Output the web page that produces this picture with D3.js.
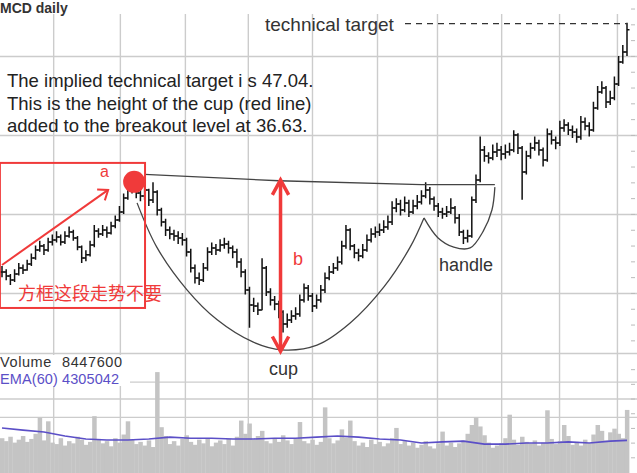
<!DOCTYPE html>
<html>
<head>
<meta charset="utf-8">
<script src="https://d3js.org/d3.v7.min.js"></script>
<style>
  body { margin: 0; background: #fff; }
  svg { display: block; font-family: "Liberation Sans", Arial, sans-serif; }
</style>
</head>
<body>
<svg id="chart" width="637" height="473"></svg>
<script>
// daily bars, MCD
var hi = [31.7,31.5,31.2,31.5,31.9,31.8,32.1,32.5,33.0,33.3,
  33.1,33.5,33.7,33.9,33.7,33.9,34.2,34.0,33.6,33.0,
  32.7,33.3,34.3,34.1,34.3,34.2,34.5,34.9,35.5,36.3,
  36.9,37.2,36.9,36.6,36.8,36.6,37.0,36.5,35.4,34.7,
  34.2,34.0,33.9,33.8,33.5,32.8,31.8,31.3,31.9,32.9,
  33.2,33.1,33.4,33.5,33.3,33.0,32.8,32.2,31.5,30.4,
  29.7,29.4,32.2,31.7,30.3,29.8,29.5,28.9,28.7,28.9,
  29.1,29.9,30.6,30.5,30.0,29.9,30.5,31.3,31.7,31.9,
  32.3,33.3,34.3,34.1,33.1,32.8,33.1,33.7,34.1,34.2,
  34.4,34.6,34.9,35.8,36.0,35.9,36.1,35.9,35.9,36.2,
  36.5,37.0,36.7,36.1,35.7,35.4,35.5,36.0,35.5,35.0,
  34.0,34.0,36.1,37.5,39.9,39.3,38.9,39.4,39.5,39.3,
  39.4,39.5,40.3,40.1,39.3,39.0,39.5,39.9,39.7,39.2,
  40.4,40.3,39.9,40.9,41.0,40.8,40.6,40.4,41.2,41.1,
  40.8,42.1,43.1,43.4,43.1,42.8,43.7,45.0,45.7,47.1];
var lo = [31.0,30.8,30.5,30.7,31.1,31.2,31.4,31.7,32.1,32.6,
  32.4,32.6,33.0,33.2,33.0,33.1,33.5,33.3,32.7,31.9,
  32.0,32.3,32.9,33.5,33.6,33.5,33.7,34.1,34.5,35.0,
  35.9,36.3,36.0,35.8,35.9,35.5,35.7,34.9,34.2,33.6,
  33.4,33.3,33.1,33.0,32.3,31.3,30.6,30.5,30.7,31.4,
  32.4,32.4,32.6,32.8,32.5,32.2,31.6,31.0,29.9,27.8,
  28.8,28.6,28.9,29.8,29.2,28.9,28.4,27.5,27.8,28.1,
  28.3,28.5,29.4,29.5,28.8,29.0,29.4,30.0,30.8,31.2,
  31.4,31.8,32.8,32.7,32.2,32.0,32.2,32.6,33.2,33.5,
  33.6,33.8,34.0,34.3,35.1,34.9,35.1,34.8,35.0,35.3,
  35.6,36.0,35.6,35.2,34.8,34.7,34.8,35.0,34.4,33.6,
  33.1,33.2,33.5,35.7,37.0,38.3,38.2,38.4,38.6,38.4,
  38.5,38.7,38.9,38.8,35.9,37.5,38.5,39.0,38.7,38.0,
  38.3,39.4,39.1,39.3,40.2,40.0,39.8,39.5,39.7,40.3,
  39.9,40.2,41.6,42.6,41.7,41.9,42.2,43.1,44.5,45.0];
var cl = [31.33,31.08,30.82,31.20,31.58,31.46,31.84,32.22,32.72,32.97,
  32.72,33.23,33.35,33.54,33.23,33.61,33.86,33.48,32.91,32.22,
  32.41,33.04,33.92,33.73,33.99,33.80,34.24,34.62,35.13,36.01,
  36.52,36.77,36.33,36.14,36.52,35.89,36.39,35.25,34.49,33.99,
  33.73,33.61,33.48,33.35,32.59,31.58,30.95,30.82,31.58,32.59,
  32.85,32.72,33.04,33.10,32.85,32.59,31.96,31.33,30.19,29.24,
  29.18,28.92,31.58,30.06,29.56,29.30,28.80,28.04,28.29,28.54,
  28.67,29.56,30.32,29.81,29.18,29.56,30.19,30.95,31.33,31.58,
  31.96,32.97,33.99,32.97,32.53,32.34,32.72,33.35,33.73,33.86,
  33.99,34.18,34.49,35.38,35.63,35.25,35.70,35.13,35.51,35.76,
  36.14,36.52,35.95,35.51,35.13,35.00,35.13,35.38,34.75,33.86,
  33.48,33.61,35.89,37.15,39.05,38.67,38.54,38.92,39.05,38.80,
  38.92,39.05,40.00,39.18,37.66,38.67,39.18,39.49,39.05,38.42,
  40.06,39.68,39.49,40.44,40.63,40.32,40.19,39.87,40.82,40.57,
  40.32,41.71,42.72,42.97,42.09,42.34,43.23,44.62,45.25,46.65];

// volume in millions
var vol = [4.6,4.2,4.8,4.0,4.4,4.9,4.1,4.5,5.2,7.4,
  4.3,6.9,4.0,3.8,4.6,3.6,4.2,3.9,4.8,4.4,
  3.7,4.1,7.6,4.5,3.9,4.2,3.5,4.6,4.0,5.1,
  6.9,4.4,3.8,4.1,3.6,4.3,3.4,13.6,6.1,4.9,
  3.8,4.2,3.6,4.5,5.0,4.1,3.7,4.4,3.9,4.6,
  3.5,4.0,4.3,3.8,4.5,3.6,4.8,7.0,5.2,6.6,
  4.4,4.9,5.6,4.2,3.9,4.6,4.1,5.0,4.3,3.8,
  4.5,6.8,4.2,3.9,4.4,3.7,4.1,8.8,4.6,3.9,
  4.3,5.8,4.7,7.0,4.2,3.6,4.0,3.4,4.4,3.8,
  4.1,3.5,3.9,4.6,6.0,3.8,4.2,3.6,4.0,3.3,
  3.7,4.2,3.5,3.2,3.9,5.5,3.6,4.0,3.4,3.9,
  4.3,5.2,6.4,7.4,6.2,5.0,4.0,3.3,3.6,3.9,
  4.6,7.8,4.4,3.7,4.8,4.1,3.9,4.3,3.6,4.0,
  8.4,4.5,3.8,4.2,6.4,4.9,3.7,4.1,3.6,4.4,
  3.9,5.1,6.4,5.6,4.3,5.4,5.9,5.2,4.6,8.45];

// EMA(60) of volume, sampled every 5 bars plus the last bar
var emaIdx = [0,5,10,15,20,25,30,35,40,45,50,55,60,65,70,75,80,85,90,95,100,105,110,115,120,125,130,135,140,145,149];
var ema = [6.0,5.7,5.45,4.9,4.5,4.35,4.35,4.5,4.75,4.6,4.6,4.5,4.5,4.6,4.6,4.75,4.9,4.75,4.5,4.35,3.95,4.1,4.2,3.8,3.8,3.95,3.95,4.1,3.95,4.2,4.31];

var monthIdx = [12.2, 28.1, 43.6, 58.6, 73.9, 89.4, 103.7, 119.0, 132.8, 146.6];
var priceGrid = [30, 35, 40, 45];
var volGrid = [7.5, 10, 12.3];

var target = 47.04;
var breakout = 36.63;

// pattern outlines as [bar index, price]
var rimPts = [[34, 37.5], [66, 37.1], [100, 36.85], [117.5, 36.85]];
var cupPts = [[32.2, 35.7], [36.9, 32.9], [44.1, 30.2], [51.3, 28.3], [59.8, 26.9], [66.7, 26.4],
  [75.1, 26.7], [83.0, 28.1], [91.1, 30.4], [97.3, 32.9], [100.6, 34.75]];
var handlePts = [[100.6, 34.75], [103.9, 33.5], [107.7, 32.9], [111.6, 32.85], [114.7, 33.9], [116.8, 35.25], [117.5, 36.7]];

var boxIdx = [-0.5, 34.1], boxPrice = [29.05, 38.23];
var arrowA = [[0, 31.77], [25.3, 36.52]];
var dotA = [31.5, 37.03];
var arrowB = { idx: 66.4, top: 37.15, bottom: 26.3 };

var W = 637, H = 473;
var red = "#f03a3a";

var svg = d3.select("#chart");

var x = d3.scaleLinear().domain([0, 149]).range([2, 627]);
var y = d3.scaleLinear().domain([26.2, 48.54]).range([353, 0]);
var yv = d3.scaleLinear().domain([0, 16.2]).range([472, 353]);

// grid
var grid = svg.append("g").attr("stroke-width", 1.4);
grid.append("g")
  .attr("transform", "translate(0,14)")
  .call(d3.axisTop(x).tickValues(monthIdx).tickSize(-(H - 14)).tickFormat(""));
grid.append("g")
  .call(d3.axisLeft(y).tickValues(priceGrid).tickSize(-W).tickFormat(""));
grid.append("g")
  .call(d3.axisLeft(yv).tickValues(volGrid.concat([16.2])).tickSize(-W).tickFormat(""));
grid.selectAll(".domain").remove();
grid.selectAll(".tick line").attr("stroke", "#cccccc");

// right hand axes (labels fall outside the crop)
var ra = svg.append("g").attr("transform", "translate(631,0)");
ra.append("g").call(d3.axisRight(y).tickValues(d3.range(27, 49)).tickSize(4).tickFormat(""));
ra.append("g").call(d3.axisRight(yv).tickValues(d3.range(2, 16, 2)).tickSize(4).tickFormat(""));
ra.selectAll(".domain").remove();
ra.selectAll(".tick line").attr("stroke", "#bbb");

// volume
var bw = x(1) - x(0);
svg.append("g").selectAll("rect")
  .data(vol)
  .enter()
  .append("rect")
  .attr("x", (d, i) => x(i) - bw / 2)
  .attr("width", bw + 0.3)
  .attr("y", d => yv(d))
  .attr("height", d => H - yv(d))
  .attr("fill", "#c4c4c4");

svg.append("path")
  .datum(ema)
  .attr("fill", "none")
  .attr("stroke", "#5b4fc7")
  .attr("stroke-width", 1.6)
  .attr("d", d3.line().x((d, k) => x(emaIdx[k])).y(d => yv(d)));

// price bars
svg.append("g").selectAll("path")
  .data(cl)
  .enter()
  .append("path")
  .attr("fill", "none")
  .attr("stroke", "#111")
  .attr("stroke-width", 1.5)
  .attr("d", (d, i) => {
    var cx = x(i), op = i > 0 ? cl[i - 1] : d;
    return "M" + cx + "," + y(hi[i]) + "V" + y(lo[i]) +
      "M" + (cx - 2.5) + "," + y(op) + "H" + cx +
      "M" + cx + "," + y(d) + "H" + (cx + 2.5);
  });

// cup and handle outline
var pline = d3.line().x(d => x(d[0])).y(d => y(d[1]));
var outline = svg.append("g").attr("fill", "none").attr("stroke", "#444").attr("stroke-width", 1.3);
outline.append("path").datum(rimPts).attr("d", pline);
outline.append("path").datum(cupPts).attr("d", pline.curve(d3.curveCatmullRom));
outline.append("path").datum(handlePts).attr("d", pline.curve(d3.curveCatmullRom));

svg.append("line")
  .attr("x1", 405).attr("x2", x(149))
  .attr("y1", y(target)).attr("y2", y(target))
  .attr("stroke", "#333").attr("stroke-width", 1.3)
  .attr("stroke-dasharray", "6,5");

// red marks
var ann = svg.append("g").attr("stroke", red).attr("fill", "none");
ann.append("rect")
  .attr("x", x(boxIdx[0])).attr("y", y(boxPrice[1]))
  .attr("width", x(boxIdx[1]) - x(boxIdx[0]))
  .attr("height", y(boxPrice[0]) - y(boxPrice[1]))
  .attr("stroke-width", 2);

function chevron(tx, ty, ang, len, spread) {
  var a1 = ang + Math.PI - spread, a2 = ang + Math.PI + spread;
  return "M" + (tx + len * Math.cos(a1)) + "," + (ty + len * Math.sin(a1)) +
    "L" + tx + "," + ty +
    "L" + (tx + len * Math.cos(a2)) + "," + (ty + len * Math.sin(a2));
}

var ax0 = x(arrowA[0][0]), ay0 = y(arrowA[0][1]), ax1 = x(arrowA[1][0]), ay1 = y(arrowA[1][1]);
var angA = Math.atan2(ay1 - ay0, ax1 - ax0);
ann.append("line").attr("x1", ax0).attr("y1", ay0).attr("x2", ax1).attr("y2", ay1).attr("stroke-width", 2);
ann.append("path").attr("d", chevron(ax1, ay1, angA, 11, 0.65)).attr("stroke-width", 2);

var bx = x(arrowB.idx), bt = y(arrowB.top), bb = y(arrowB.bottom);
ann.append("line").attr("x1", bx).attr("x2", bx).attr("y1", bt + 1).attr("y2", bb - 1).attr("stroke-width", 3.5);
ann.append("path").attr("d", chevron(bx, bt, -Math.PI / 2, 17, 0.5)).attr("stroke-width", 3.5);
ann.append("path").attr("d", chevron(bx, bb, Math.PI / 2, 17, 0.5)).attr("stroke-width", 3.5);

svg.append("circle")
  .attr("cx", x(dotA[0])).attr("cy", y(dotA[1])).attr("r", 11)
  .attr("fill", red);

// texts
svg.append("text").attr("x", 0).attr("y", 13)
  .attr("font-size", 14).attr("font-weight", "bold").attr("fill", "#333")
  .text("MCD daily");

svg.append("text").attr("x", 265).attr("y", 31)
  .attr("font-size", 19).attr("fill", "#333")
  .text("technical target");

var notes = ["The implied technical target i s 47.04.",
  "This is the height of the cup (red line)",
  "added to the breakout level at 36.63."];
svg.append("g").selectAll("text")
  .data(notes)
  .enter()
  .append("text")
  .attr("x", 7)
  .attr("y", (d, i) => 87 + i * 22.5)
  .attr("font-size", 18.5)
  .attr("fill", "#222")
  .text(d => d);

svg.append("text").attr("x", 100).attr("y", 177).attr("font-size", 16).attr("fill", red).text("a");
svg.append("text").attr("x", 293).attr("y", 265).attr("font-size", 18).attr("fill", red).text("b");
svg.append("text").attr("x", 18).attr("y", 300)
  .attr("font-family", "'Noto Sans CJK SC', sans-serif")
  .attr("font-size", 18).attr("fill", red)
  .text("方框这段走势不要");

svg.append("text").attr("x", 439).attr("y", 271).attr("font-size", 18).attr("fill", "#333").text("handle");
svg.append("text").attr("x", 269).attr("y", 375).attr("font-size", 18).attr("fill", "#333").text("cup");

svg.append("rect").attr("x", 0).attr("y", 355).attr("width", 130).attr("height", 31).attr("fill", "#fff");
var vt = svg.append("text").attr("x", 0).attr("y", 367)
  .attr("font-size", 14.5).attr("fill", "#333").attr("letter-spacing", 0.6);
vt.append("tspan").text("Volume");
vt.append("tspan").attr("x", 62).text("8447600");
svg.append("text").attr("x", 0).attr("y", 384)
  .attr("font-size", 14.5).attr("fill", "#5b4fc7").attr("letter-spacing", 0.1)
  .text("EMA(60) 4305042");
</script>
</body>
</html>
